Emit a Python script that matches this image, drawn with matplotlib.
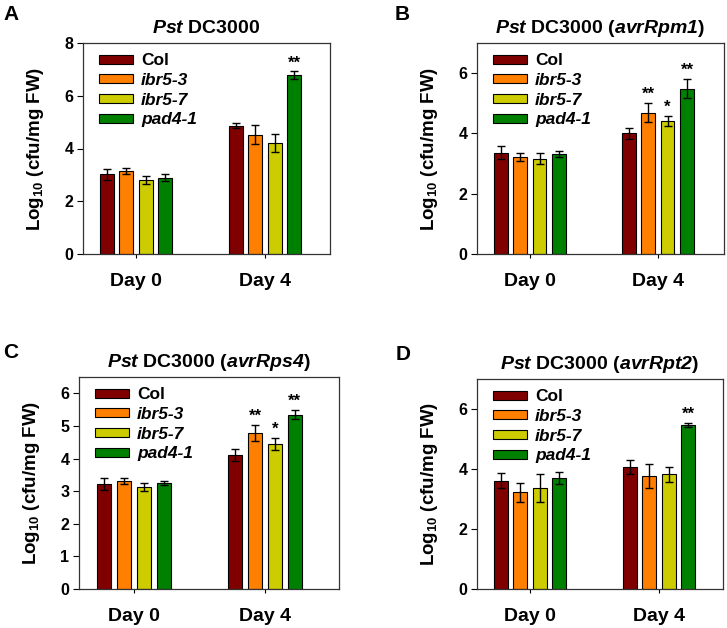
import numpy as np
import matplotlib
matplotlib.use('Agg')
import matplotlib.pyplot as plt

# ── fonts ───────────────────────────────────────────────────
plt.rcParams['font.family'] = 'Liberation Sans'
plt.rcParams['font.weight'] = 'bold'
plt.rcParams['mathtext.fontset'] = 'custom'
plt.rcParams['mathtext.rm'] = 'Liberation Sans:bold'
plt.rcParams['mathtext.bf'] = 'Liberation Sans:bold'
plt.rcParams['mathtext.it'] = 'Liberation Sans:italic:bold'
plt.rcParams['mathtext.bfit'] = 'Liberation Sans:italic:bold'
plt.rcParams['mathtext.default'] = 'bf'

# ── data ────────────────────────────────────────────────────
days = ['Day 0', 'Day 4']
genotypes = ['Col', 'ibr5-3', 'ibr5-7', 'pad4-1']
colors = ['#800000', '#ff8000', '#cccc00', '#008000']

# panel A: Pst DC3000   (rows = genotype, cols = day)
a_mean = [[3.02, 4.86], [3.14, 4.53], [2.82, 4.22], [2.89, 6.77]]
a_err = [[0.22, 0.10], [0.11, 0.36], [0.15, 0.34], [0.14, 0.15]]
a_star = [['', ''], ['', ''], ['', ''], ['', '**']]

# panel B: Pst DC3000 (avrRpm1)
b_mean = [[3.36, 4.01], [3.21, 4.69], [3.16, 4.40], [3.32, 5.48]]
b_err = [[0.21, 0.18], [0.14, 0.32], [0.19, 0.17], [0.09, 0.32]]
b_star = [['', ''], ['', '**'], ['', '*'], ['', '**']]

# panel C: Pst DC3000 (avrRps4)
c_mean = [[3.22, 4.11], [3.31, 4.78], [3.13, 4.44], [3.25, 5.35]]
c_err = [[0.19, 0.19], [0.08, 0.24], [0.13, 0.19], [0.05, 0.13]]
c_star = [['', ''], ['', '**'], ['', '*'], ['', '**']]

# panel D: Pst DC3000 (avrRpt2)
d_mean = [[3.61, 4.08], [3.22, 3.76], [3.36, 3.82], [3.70, 5.47]]
d_err = [[0.25, 0.23], [0.31, 0.40], [0.46, 0.24], [0.20, 0.08]]
d_star = [['', ''], ['', ''], ['', ''], ['', '**']]

panels = [
    ('A', r'$\mathbfit{Pst}$ DC3000', a_mean, a_err, a_star, 8, 2),
    ('B', r'$\mathbfit{Pst}$ DC3000 ($\mathbfit{avrRpm1}$)', b_mean, b_err, b_star, 7, 2),
    ('C', r'$\mathbfit{Pst}$ DC3000 ($\mathbfit{avrRps4}$)', c_mean, c_err, c_star, 6.5, 1),
    ('D', r'$\mathbfit{Pst}$ DC3000 ($\mathbfit{avrRpt2}$)', d_mean, d_err, d_star, 7, 2),
]

# axes boxes in pixels: left, right, top, bottom ; plus x limits
W, H = 727, 628
boxes = [(83, 330, 43, 254), (477, 724, 43, 254),
         (79, 339, 377, 589), (477, 723, 379, 589)]
xlims = [(-0.411, 1.504), (-0.414, 1.516), (-0.42, 1.565), (-0.41, 1.496)]
letter_pos = [(3, 14), (395, 14), (3, 353), (396, 355)]

fig = plt.figure(figsize=(W / 100, H / 100), dpi=100)

pitch = 0.151
width = 0.107
x = np.arange(len(days))

for i, (letter, title, mean, err, stars, ymax, ystep) in enumerate(panels):
    l, r, t, b = boxes[i]
    ax = fig.add_axes([l / W, 1 - b / H, (r - l) / W, (b - t) / H])
    for g in range(len(genotypes)):
        pos = x + (g - 1.5) * pitch
        ax.bar(pos, mean[g], width=width, color=colors[g], edgecolor='black',
               linewidth=0.8, label=genotypes[g], zorder=2)
        ax.errorbar(pos, mean[g], yerr=err[g], fmt='none', ecolor='black',
                    elinewidth=1, capsize=3, capthick=1, zorder=3)
        for d in range(len(days)):
            if stars[g][d]:
                ax.text(pos[d], mean[g][d] + err[g][d] + ymax * 0.005, stars[g][d],
                        ha='center', va='bottom', fontsize=12, fontweight='bold')

    ax.set_xlim(*xlims[i])
    ax.set_ylim(0, ymax)
    ax.set_yticks(np.arange(0, ymax + 0.01, ystep))
    ax.set_xticks(x)
    ax.set_xticklabels(days, fontsize=14, fontweight='bold')
    ax.tick_params(axis='x', length=3, pad=11)
    ax.tick_params(axis='y', length=4, labelsize=11.5, pad=3)
    for lab in ax.get_yticklabels():
        lab.set_fontweight('bold')
    for sp in ax.spines.values():
        sp.set_linewidth(0.9)
        sp.set_color('#333333')

    ax.set_ylabel(r'Log$_{10}$ (cfu/mg FW)', fontsize=13.5, fontweight='bold', labelpad=13)
    ax.set_title(title, fontsize=14, fontweight='bold', pad=7)

    leg = ax.legend(loc='upper left', bbox_to_anchor=(0.0, 1.025), frameon=False,
                    fontsize=12.5, handlelength=2.0, handleheight=0.4,
                    labelspacing=0.27, handletextpad=0.45)
    for j, txt in enumerate(leg.get_texts()):
        txt.set_fontweight('bold')
        if j > 0:
            txt.set_fontstyle('italic')

    fig.text(letter_pos[i][0] / W, 1 - letter_pos[i][1] / H, letter,
             fontsize=15, fontweight='bold', ha='left', va='center')

fig.savefig('out.png', dpi=100)
